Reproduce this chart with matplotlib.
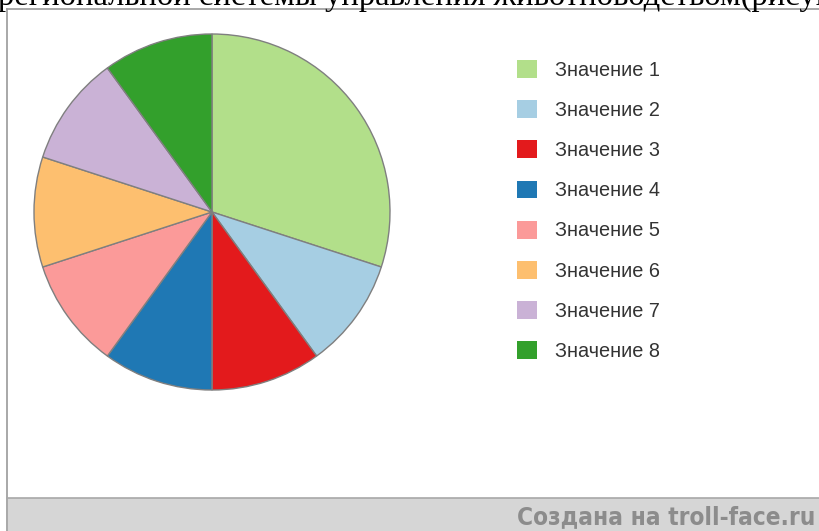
import matplotlib.pyplot as plt
from matplotlib.lines import Line2D
from matplotlib.patches import Rectangle

labels = ['Значение 1', 'Значение 2', 'Значение 3', 'Значение 4',
          'Значение 5', 'Значение 6', 'Значение 7', 'Значение 8']
values = [30, 10, 10, 10, 10, 10, 10, 10]
colors = ['#b2df8a', '#a6cee3', '#e31a1c', '#1f78b4',
          '#fb9a99', '#fdbf6f', '#cab2d6', '#33a02c']

W, H = 819, 531
fig = plt.figure(figsize=(W / 100, H / 100), dpi=100)
fig.patch.set_facecolor('white')

def fx(px):
    return px / W

def fy(py):
    return 1 - py / H

# строка текста документа над диаграммой (обрезана сверху)
fig.text(fx(-2), fy(5), 'региональной системы управления животноводством(рисунок 1)',
         family='Liberation Serif', fontsize=23.5, color='black', va='baseline', ha='left')

# рамка
fig.add_artist(Line2D([fx(7), fx(7)], [fy(9), fy(531)], color='#9a9a9a', lw=1.2))
fig.add_artist(Line2D([fx(7), 1], [fy(9), fy(9)], color='#9a9a9a', lw=1.2))

# нижняя серая полоса
fig.add_artist(Rectangle((fx(7.5), 0), 1, fy(498), facecolor='#d6d6d6',
                         edgecolor='none', transform=fig.transFigure))
fig.add_artist(Line2D([fx(7), 1], [fy(498), fy(498)], color='#a8a8a8', lw=1.2))
fig.text(fx(815), fy(517), 'Создана на troll-face.ru', family='DejaVu Sans',
         fontstretch='condensed', fontweight='bold', fontsize=17.5,
         color='#8c8c8c', ha='right', va='center')

# круговая диаграмма
cx, cy, r = 212, 212, 178
ax = fig.add_axes([fx(cx - r), fy(cy + r), (2 * r) / W, (2 * r) / H])
wedges, _ = ax.pie(values, colors=colors, startangle=90, counterclock=False,
                   wedgeprops=dict(edgecolor='#7f7f7f', linewidth=1))
ax.set_xlim(-1, 1)
ax.set_ylim(-1, 1)
ax.axis('off')

fs = 14.3
leg = fig.legend(wedges, labels, loc='upper left',
                 bbox_to_anchor=(fx(517), fy(60)), frameon=False, borderpad=0,
                 borderaxespad=0, prop=dict(family='Liberation Sans', size=fs),
                 handlelength=1.007, handleheight=1.007, handletextpad=0.9,
                 labelspacing=1.03)
for h in leg.legend_handles:
    h.set_edgecolor('none')
for t in leg.get_texts():
    t.set_color('#333333')

fig.savefig('out.png', dpi=100)
